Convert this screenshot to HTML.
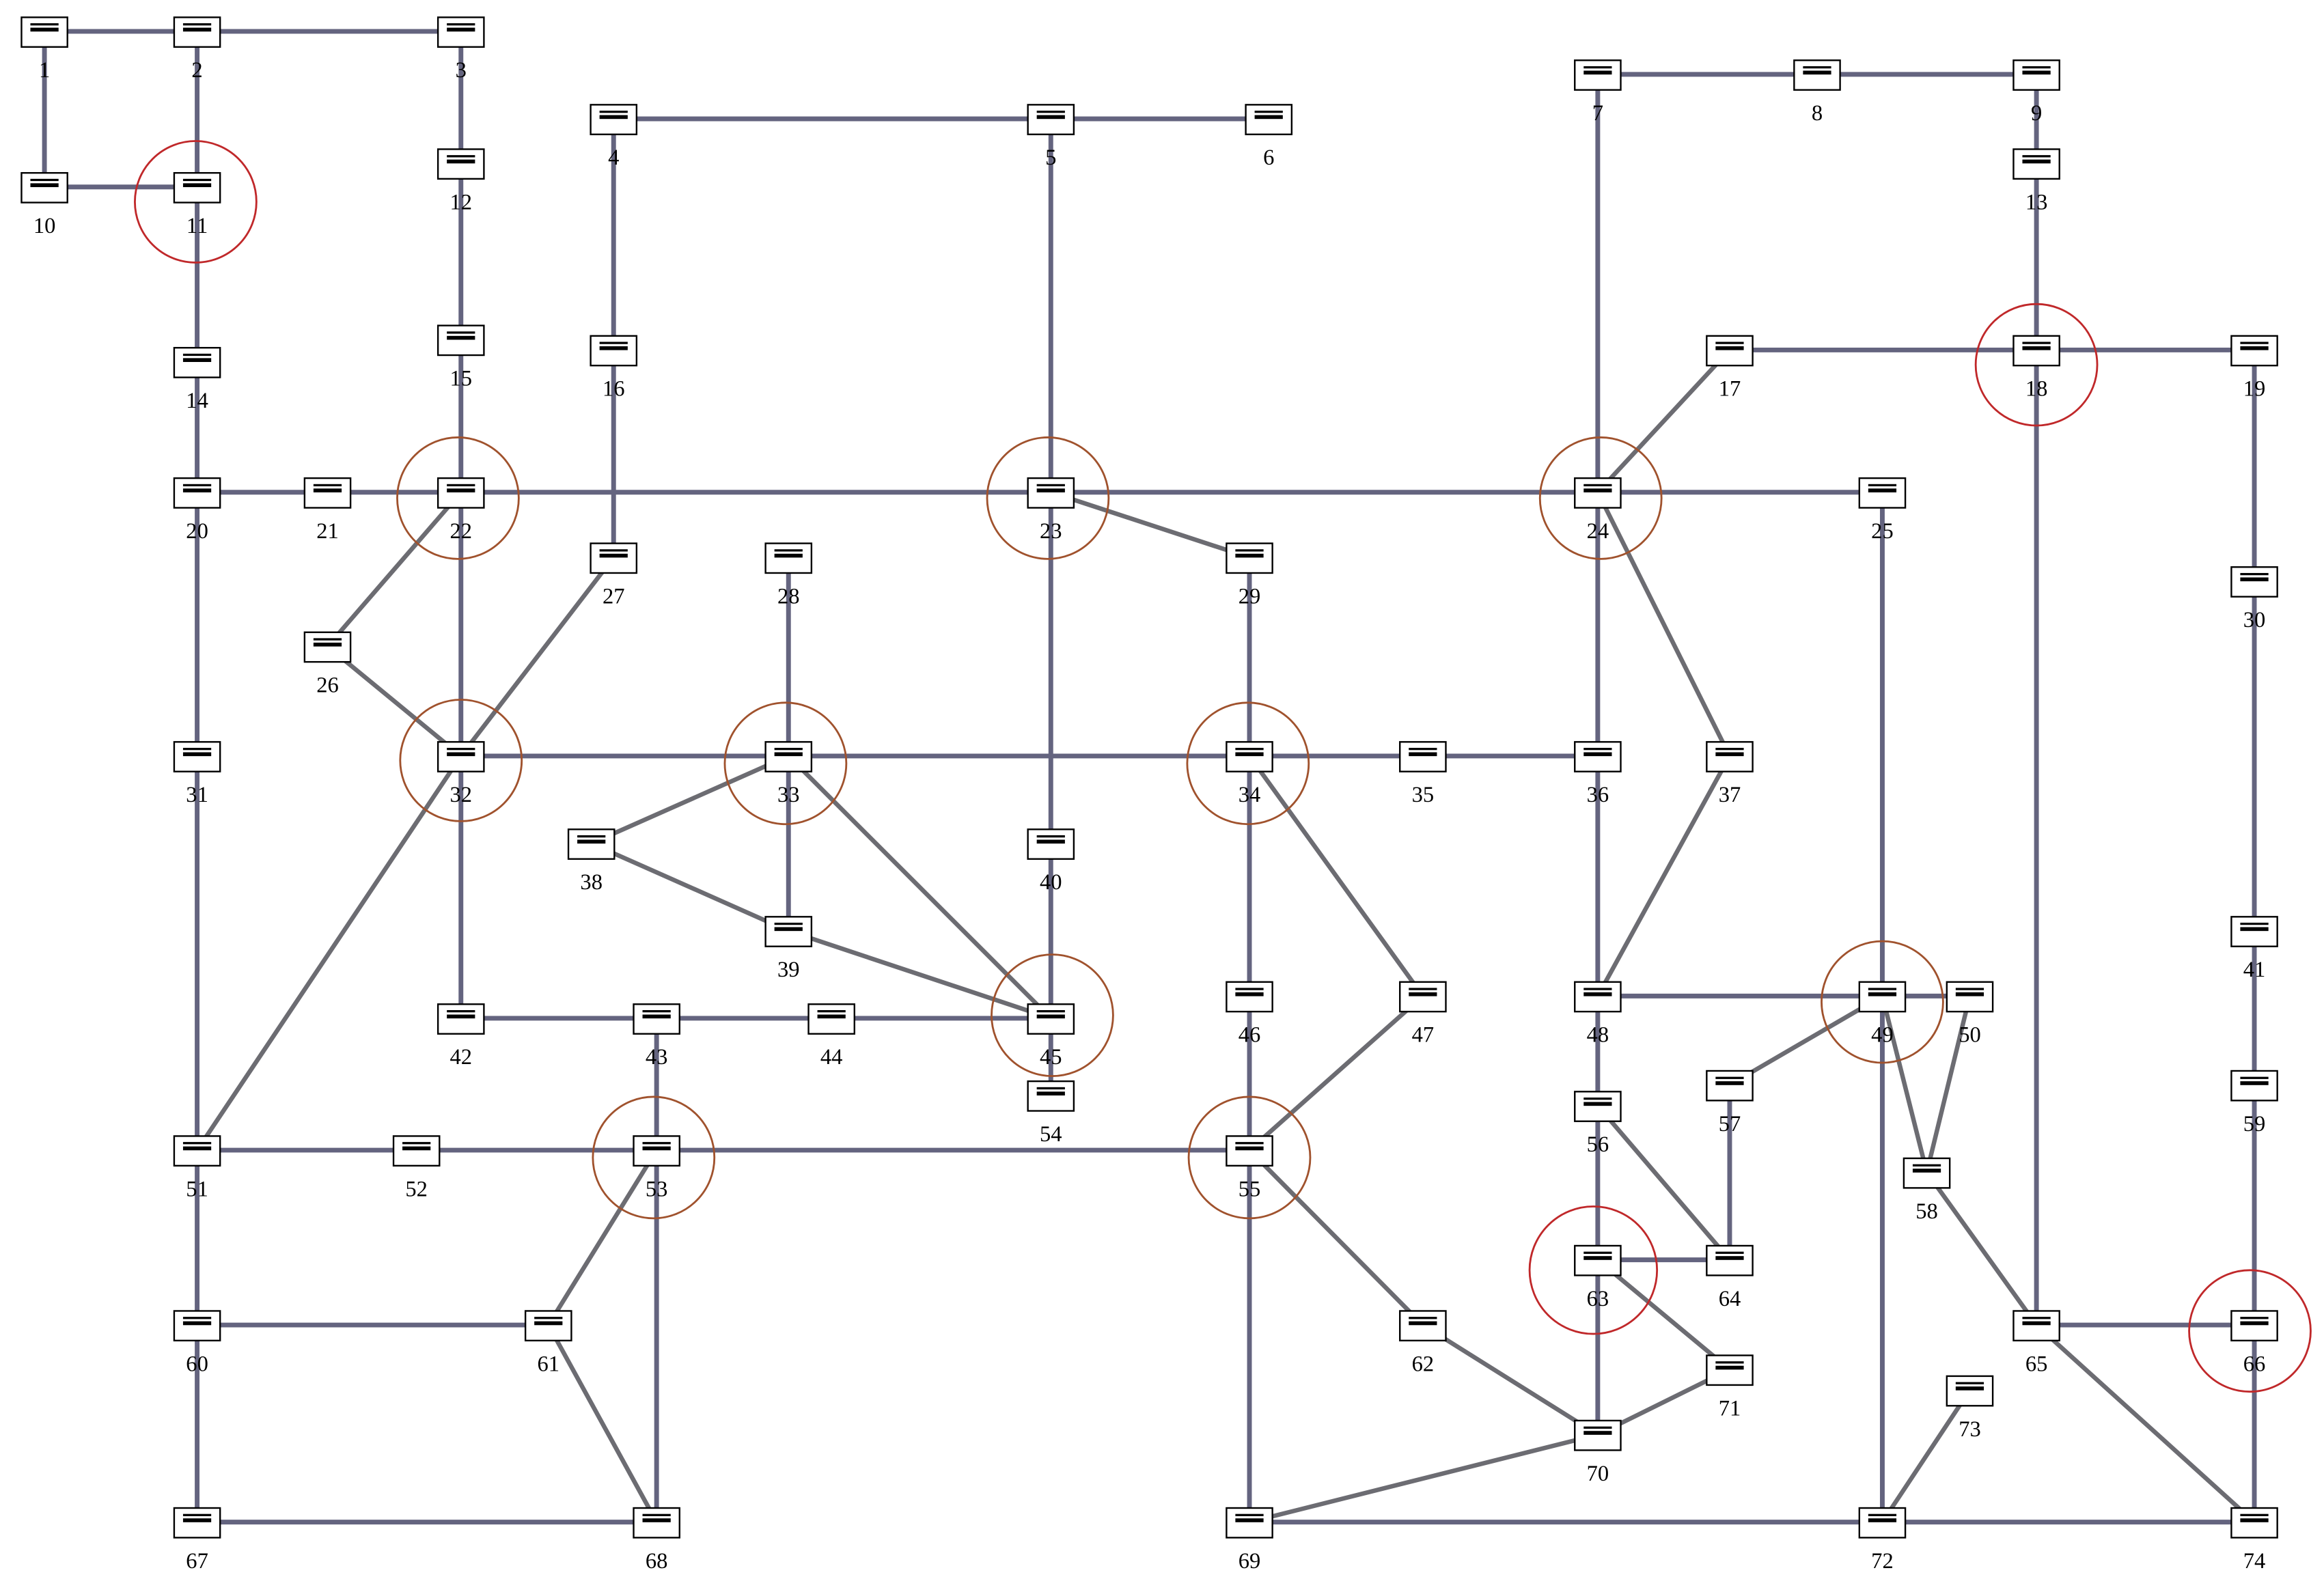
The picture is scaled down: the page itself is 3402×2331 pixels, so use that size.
<!DOCTYPE html>
<html><head><meta charset="utf-8"><style>html,body{margin:0;padding:0;background:#fff}svg{display:block}</style></head>
<body>
<svg width="3402" height="2331" viewBox="0 0 1568 1074" xmlns="http://www.w3.org/2000/svg">
<defs>
<g id="n"><rect x="-15.5" y="-9.5" width="31" height="20" fill="#fff" stroke="#000" stroke-width="1.1"/><rect x="-9.5" y="-5.5" width="19" height="1.5" fill="#000"/><rect x="-9.5" y="-2.5" width="19" height="2.6" fill="#000"/></g>
</defs>
<g stroke="#64647f" stroke-width="3.2" stroke-linecap="butt" fill="none">
<path d="M30 21H133M133 21H311M30 21V126M30 126H133M133 21V126M133 126V244M133 244V332M311 21V110M311 110V229M311 229V332M414 80H709M709 80H856M414 80V236M414 236V376M709 80V332M1078 50H1226M1226 50H1374M1078 50V332M1374 50V110M1374 110V236M1167 236H1374M1374 236H1521M1374 236V894M1521 236V392M1521 392V628M1521 628V732M1521 732V894M133 332H221M221 332H311M311 332H709M709 332H1078M1078 332H1270M133 332V510M133 510V776M311 332V510M709 332V569M843 376V510M1078 332V510M1270 332V672M532 376V510M311 510H532M532 510H843M843 510H960M960 510H1078M311 510V687M532 510V628M709 569V687M709 687V739M311 687H443M443 687H561M561 687H709M443 687V776M843 510V672M843 672V776M1078 510V672M1078 672H1270M1270 672H1329M1270 672V1027M1078 672V746M1078 746V850M1078 850H1167M1078 850V968M1167 732V850M133 776H281M281 776H443M443 776H843M133 776V894M443 776V1027M133 894H370M133 894V1027M133 1027H443M843 776V1027M843 1027H1270M1270 1027H1521M1374 894H1521M1521 894V1027"/>
</g>
<g stroke="#6c6c72" stroke-width="3" fill="none">
<path d="M1167 236L1078 332M311 332L221 436M221 436L311 510M414 376L311 510M709 332L843 376M1078 332L1167 510M311 510L133 776M532 510L399 569M399 569L532 628M532 510L709 687M532 628L709 687M843 510L960 672M960 672L843 776M1167 510L1078 672M1270 672L1167 732M1270 672L1300 791M1329 672L1300 791M1078 746L1167 850M1078 850L1167 924M1167 924L1078 968M443 776L370 894M370 894L443 1027M843 776L960 894M960 894L1078 968M843 1027L1078 968M1270 1027L1329 938M1300 791L1374 894M1374 894L1521 1027"/>
</g>
<g fill="none" stroke-width="1.3">
<circle cx="132" cy="136" r="41" stroke="#c0282a"/>
<circle cx="1374" cy="246" r="41" stroke="#c0282a"/>
<circle cx="1518" cy="898" r="41" stroke="#c0282a"/>
<circle cx="1075" cy="857" r="43" stroke="#c0282a"/>
<circle cx="309" cy="336" r="41" stroke="#a0522d"/>
<circle cx="707" cy="336" r="41" stroke="#a0522d"/>
<circle cx="1080" cy="336" r="41" stroke="#a0522d"/>
<circle cx="311" cy="513" r="41" stroke="#a0522d"/>
<circle cx="530" cy="515" r="41" stroke="#a0522d"/>
<circle cx="842" cy="515" r="41" stroke="#a0522d"/>
<circle cx="710" cy="685" r="41" stroke="#a0522d"/>
<circle cx="441" cy="781" r="41" stroke="#a0522d"/>
<circle cx="843" cy="781" r="41" stroke="#a0522d"/>
<circle cx="1270" cy="676" r="41" stroke="#a0522d"/>
</g>
<g>
<use href="#n" x="30" y="21"/><use href="#n" x="133" y="21"/><use href="#n" x="311" y="21"/>
<use href="#n" x="30" y="126"/><use href="#n" x="133" y="126"/><use href="#n" x="311" y="110"/>
<use href="#n" x="414" y="80"/><use href="#n" x="709" y="80"/><use href="#n" x="856" y="80"/>
<use href="#n" x="1078" y="50"/><use href="#n" x="1226" y="50"/><use href="#n" x="1374" y="50"/>
<use href="#n" x="1374" y="110"/>
<use href="#n" x="133" y="244"/><use href="#n" x="311" y="229"/><use href="#n" x="414" y="236"/>
<use href="#n" x="1167" y="236"/><use href="#n" x="1374" y="236"/><use href="#n" x="1521" y="236"/>
<use href="#n" x="133" y="332"/><use href="#n" x="221" y="332"/><use href="#n" x="311" y="332"/><use href="#n" x="709" y="332"/><use href="#n" x="1078" y="332"/><use href="#n" x="1270" y="332"/>
<use href="#n" x="221" y="436"/><use href="#n" x="414" y="376"/><use href="#n" x="532" y="376"/><use href="#n" x="843" y="376"/><use href="#n" x="1521" y="392"/>
<use href="#n" x="133" y="510"/><use href="#n" x="311" y="510"/><use href="#n" x="532" y="510"/><use href="#n" x="843" y="510"/><use href="#n" x="960" y="510"/><use href="#n" x="1078" y="510"/><use href="#n" x="1167" y="510"/>
<use href="#n" x="399" y="569"/><use href="#n" x="532" y="628"/><use href="#n" x="709" y="569"/><use href="#n" x="1521" y="628"/>
<use href="#n" x="311" y="687"/><use href="#n" x="443" y="687"/><use href="#n" x="561" y="687"/><use href="#n" x="709" y="687"/><use href="#n" x="843" y="672"/><use href="#n" x="960" y="672"/><use href="#n" x="1078" y="672"/><use href="#n" x="1270" y="672"/><use href="#n" x="1329" y="672"/>
<use href="#n" x="709" y="739"/>
<use href="#n" x="1078" y="746"/><use href="#n" x="1167" y="732"/><use href="#n" x="1521" y="732"/>
<use href="#n" x="133" y="776"/><use href="#n" x="281" y="776"/><use href="#n" x="443" y="776"/><use href="#n" x="843" y="776"/><use href="#n" x="1300" y="791"/>
<use href="#n" x="1078" y="850"/><use href="#n" x="1167" y="850"/>
<use href="#n" x="133" y="894"/><use href="#n" x="370" y="894"/><use href="#n" x="960" y="894"/><use href="#n" x="1374" y="894"/><use href="#n" x="1521" y="894"/>
<use href="#n" x="1167" y="924"/><use href="#n" x="1329" y="938"/>
<use href="#n" x="1078" y="968"/>
<use href="#n" x="133" y="1027"/><use href="#n" x="443" y="1027"/><use href="#n" x="843" y="1027"/><use href="#n" x="1270" y="1027"/><use href="#n" x="1521" y="1027"/>
</g>
<g font-family="Liberation Serif, serif" font-size="15" text-anchor="middle" fill="#000">
<text x="30" y="52">1</text><text x="133" y="52">2</text><text x="311" y="52">3</text>
<text x="30" y="157">10</text><text x="133" y="157">11</text><text x="311" y="141">12</text>
<text x="414" y="111">4</text><text x="709" y="111">5</text><text x="856" y="111">6</text>
<text x="1078" y="81">7</text><text x="1226" y="81">8</text><text x="1374" y="81">9</text>
<text x="1374" y="141">13</text>
<text x="133" y="275">14</text><text x="311" y="260">15</text><text x="414" y="267">16</text>
<text x="1167" y="267">17</text><text x="1374" y="267">18</text><text x="1521" y="267">19</text>
<text x="133" y="363">20</text><text x="221" y="363">21</text><text x="311" y="363">22</text><text x="709" y="363">23</text><text x="1078" y="363">24</text><text x="1270" y="363">25</text>
<text x="221" y="467">26</text><text x="414" y="407">27</text><text x="532" y="407">28</text><text x="843" y="407">29</text><text x="1521" y="423">30</text>
<text x="133" y="541">31</text><text x="311" y="541">32</text><text x="532" y="541">33</text><text x="843" y="541">34</text><text x="960" y="541">35</text><text x="1078" y="541">36</text><text x="1167" y="541">37</text>
<text x="399" y="600">38</text><text x="532" y="659">39</text><text x="709" y="600">40</text><text x="1521" y="659">41</text>
<text x="311" y="718">42</text><text x="443" y="718">43</text><text x="561" y="718">44</text><text x="709" y="718">45</text><text x="843" y="703">46</text><text x="960" y="703">47</text><text x="1078" y="703">48</text><text x="1270" y="703">49</text><text x="1329" y="703">50</text>
<text x="709" y="770">54</text>
<text x="1078" y="777">56</text><text x="1167" y="763">57</text><text x="1521" y="763">59</text>
<text x="133" y="807">51</text><text x="281" y="807">52</text><text x="443" y="807">53</text><text x="843" y="807">55</text><text x="1300" y="822">58</text>
<text x="1078" y="881">63</text><text x="1167" y="881">64</text>
<text x="133" y="925">60</text><text x="370" y="925">61</text><text x="960" y="925">62</text><text x="1374" y="925">65</text><text x="1521" y="925">66</text>
<text x="1167" y="955">71</text><text x="1329" y="969">73</text>
<text x="1078" y="999">70</text>
<text x="133" y="1058">67</text><text x="443" y="1058">68</text><text x="843" y="1058">69</text><text x="1270" y="1058">72</text><text x="1521" y="1058">74</text>
</g>
</svg>
</body></html>
